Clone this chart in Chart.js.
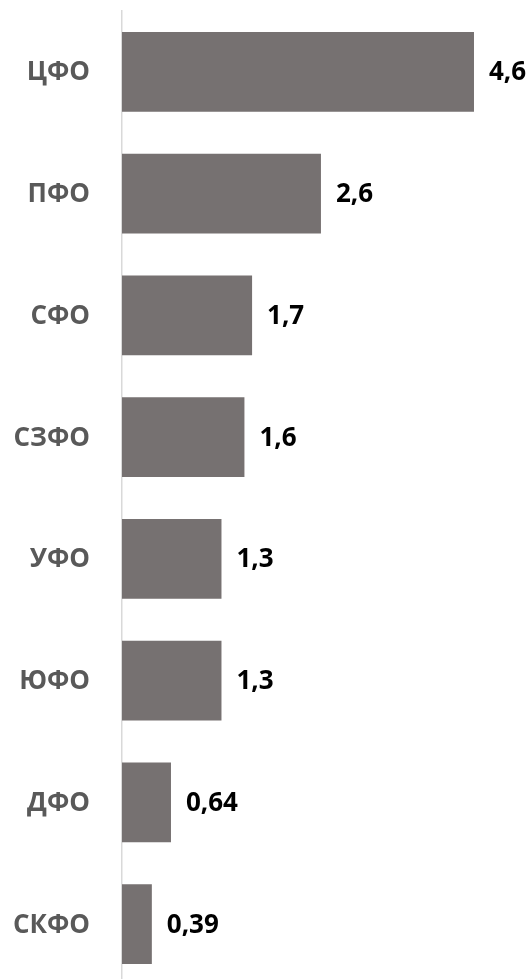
<!DOCTYPE html>
<html>
<head>
<meta charset="utf-8">
<script src="https://cdn.jsdelivr.net/npm/chart.js@4"></script>
<style>
  html, body { margin: 0; padding: 0; background: #fff; overflow: hidden; }
  canvas { display: block; }
</style>
</head>
<body>
<canvas id="myChart" width="531" height="1000"></canvas>
<script>
const regions = ['ЦФО', 'ПФО', 'СФО', 'СЗФО', 'УФО', 'ЮФО', 'ДФО', 'СКФО'];
const values = [4.6, 2.6, 1.7, 1.6, 1.3, 1.3, 0.64, 0.39];

const FONT = '"Open Sans", "Liberation Sans", sans-serif';

// подписи категорий слева и значений справа от столбцов
const barLabels = {
    id: 'barLabels',
    afterDatasetsDraw(chart) {
        const ctx = chart.ctx;
        const meta = chart.getDatasetMeta(0);
        const yScale = chart.scales.y;
        ctx.save();
        ctx.font = 'bold 26px ' + FONT;
        ctx.textBaseline = 'middle';
        meta.data.forEach((bar, i) => {
            ctx.fillStyle = '#595959';
            ctx.textAlign = 'right';
            ctx.fillText(regions[i], yScale.right - 32, yScale.getPixelForValue(i) + 1);
            ctx.fillStyle = '#000';
            ctx.textAlign = 'left';
            ctx.fillText(String(values[i]).replace('.', ','), bar.x + 15, bar.y + 1);
        });
        ctx.restore();
    }
};

const ctx = document.getElementById('myChart').getContext('2d');
const myChart = new Chart(ctx, {
    type: 'bar',
    data: {
        labels: regions,
        datasets: [{
            data: values,
            backgroundColor: '#767171',
            barPercentage: 0.655,
            categoryPercentage: 1
        }]
    },
    options: {
        indexAxis: 'y',
        responsive: false,
        animation: false,
        layout: {
            padding: { top: 11, bottom: 15, left: 0, right: 26.4 }
        },
        plugins: {
            legend: { display: false },
            tooltip: { enabled: false }
        },
        scales: {
            x: {
                display: false,
                min: 0,
                max: 5
            },
            y: {
                afterFit(scale) { scale.width = 122; },
                grid: { display: false, drawTicks: false },
                border: { display: true, color: '#d9d9d9', width: 1.5 },
                ticks: { display: false }
            }
        }
    },
    plugins: [barLabels]
});
</script>
</body>
</html>
